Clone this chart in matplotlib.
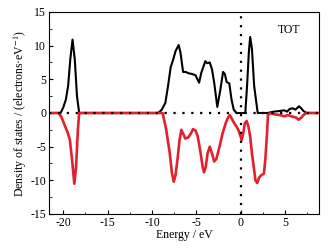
import numpy as np
import matplotlib
matplotlib.use('Agg')
from matplotlib import pyplot as plt
from matplotlib.ticker import MultipleLocator

plt.rcParams['font.family'] = 'Liberation Serif'
plt.rcParams['mathtext.fontset'] = 'stix'
plt.rcParams['axes.unicode_minus'] = False

# spin-up DOS (black)
e_up = [-21.6, -20.3, -20.0, -19.7, -19.45, -19.2, -18.95, -18.7, -18.45, -18.2, -9.3,
        -8.9, -8.5, -8.2, -7.9, -7.6, -7.35, -7.0, -6.8, -6.5, -6.2, -5.9, -5.5, -5.1,
        -4.7, -4.45, -4.0, -3.8, -3.5, -3.25, -3.0, -2.65, -2.3, -2.0, -1.8, -1.6, -1.3,
        -1.05, -0.8, -0.5, 0.5, 0.7, 0.9, 1.05, 1.25, 1.5, 1.9, 3.0, 3.7, 4.4, 4.9, 5.2,
        5.5, 5.85, 6.15, 6.55, 6.8, 7.05, 7.4, 8.8]
dos_up = [0, 0, 0.8, 2.0, 4.0, 8.0, 10.9, 8.0, 2.5, 0, 0,
          0.5, 1.5, 4.0, 6.8, 8.0, 9.2, 10.1, 9.0, 6.1, 6.1, 5.9, 5.8, 5.6,
          4.5, 6.0, 7.7, 7.4, 7.5, 6.5, 4.5, 0.9, 3.5, 6.1, 5.8, 4.6, 4.4,
          2.0, 0.5, 0, 0, 4.0, 9.0, 11.3, 9.5, 4.0, 0, 0, 0.2, 0.3, 0.4, 0.2,
          0.6, 0.7, 0.5, 1.0, 0.7, 0.3, 0, 0]

# spin-down DOS (red)
e_dn = [-21.6, -20.5, -20.2, -19.9, -19.5, -19.25, -19.0, -18.75, -18.55, -18.35, -18.2,
        -8.8, -8.4, -8.0, -7.75, -7.55, -7.35, -7.1, -6.9, -6.7, -6.45, -6.25, -5.9, -5.6,
        -5.4, -5.1, -4.85, -4.55, -4.3, -4.15, -3.95, -3.75, -3.5, -3.25, -3.0, -2.75, -2.4,
        -2.05, -1.7, -1.45, -1.25, -1.0, -0.75, -0.5, -0.25, -0.05, 0.1, 0.3, 0.45, 0.65,
        0.85, 1.05, 1.25, 1.45, 1.65, 1.85, 2.05, 2.25, 2.6, 2.75, 2.95, 3.05, 3.35, 3.8,
        4.4, 4.9, 5.3, 5.7, 6.0, 6.25, 6.5, 6.8, 7.05, 7.4, 8.8]
dos_dn = [0, 0, -0.6, -1.6, -2.9, -4.0, -7.0, -10.5, -8.0, -2.5, 0,
          0, -2.5, -6.0, -9.0, -10.2, -9.2, -6.5, -4.0, -2.5, -3.2, -3.8, -3.6, -3.0,
          -2.4, -2.6, -3.5, -5.8, -8.0, -8.8, -8.0, -6.0, -5.0, -6.0, -7.2, -6.8, -5.0,
          -3.0, -1.5, -0.7, -0.3, -0.9, -1.5, -2.0, -2.6, -3.4, -4.0, -2.8, -1.5, -1.2,
          -2.0, -3.5, -6.0, -8.0, -10.0, -10.4, -9.6, -9.3, -9.0, -7.0, -3.0, -0.3, 0, -0.2,
          -0.3, -0.5, -0.3, -0.5, -0.6, -0.7, -1.0, -0.7, -0.3, 0, 0]

fig = plt.figure(figsize=(3.36, 2.5), dpi=100)
ax = fig.add_axes([49/336, 1 - 214/250, 270/336, 202/250])

ax.plot(e_up, dos_up, color='black', lw=1.5, zorder=2)
ax.plot(e_dn, dos_dn, color='#e3202e', lw=1.9, zorder=3)
ax.axhline(0, color='black', lw=1.6, ls=(0, (1, 3)), zorder=4)
ax.axvline(0, color='black', lw=1.6, ls=(0, (1, 3)), zorder=4)

ax.set_xlim(-21.6, 8.8)
ax.set_ylim(-15, 15)
ax.xaxis.set_major_locator(MultipleLocator(5))
ax.xaxis.set_minor_locator(MultipleLocator(2.5))
ax.yaxis.set_major_locator(MultipleLocator(5))
ax.yaxis.set_minor_locator(MultipleLocator(2.5))
ax.tick_params(which='both', direction='in', labelsize=8.5, pad=2)
ax.tick_params(which='major', length=3)
ax.tick_params(which='minor', length=1.8)
for s in ax.spines.values():
    s.set_linewidth(0.8)

ax.text(0.93, 0.91, 'TOT', transform=ax.transAxes, ha='right', va='center', fontsize=8.5)
ax.set_xlabel('Energy / eV', fontsize=8.5, labelpad=0)
ax.set_ylabel('Density of states / (electrons\u00b7eV$^{-1}$)', fontsize=8.5, labelpad=1)

plt.savefig('out.png', dpi=100)
